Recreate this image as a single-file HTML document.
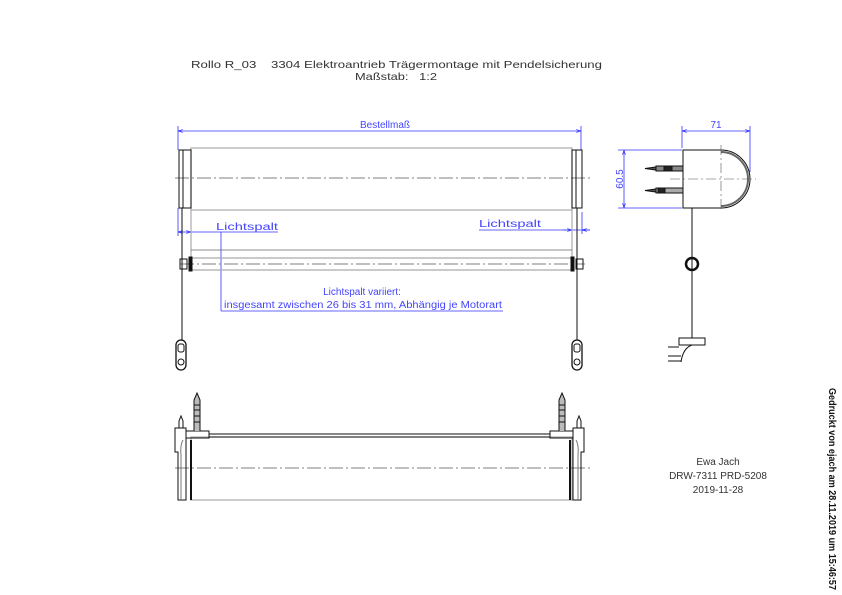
<!DOCTYPE html>
<html><head><meta charset="utf-8"><style>
html,body{margin:0;padding:0;background:#fff}
svg{display:block}
text{font-family:"Liberation Sans",sans-serif;white-space:pre}
</style></head><body>
<svg width="842" height="595" viewBox="0 0 842 595" xmlns="http://www.w3.org/2000/svg">
<defs>
<marker id="a" viewBox="0 0 10 10" refX="10" refY="5" markerWidth="6" markerHeight="6" orient="auto-start-reverse"><path d="M0,2 L10,5 L0,8" fill="none" stroke="#3333ff" stroke-width="1.5"/></marker>
</defs>
<!-- Title -->
<text x="191" y="68" font-size="10.5" fill="#333" textLength="411" lengthAdjust="spacingAndGlyphs" xml:space="preserve">Rollo R_03    3304 Elektroantrieb Trägermontage mit Pendelsicherung</text>
<text x="355" y="80" font-size="10.5" fill="#333" xml:space="preserve" textLength="82" lengthAdjust="spacingAndGlyphs">Maßstab:   1:2</text>

<!-- TOP VIEW -->
<g stroke="#3333ff" stroke-width="0.8" fill="none">
<line x1="178" y1="126" x2="178" y2="150"/>
<line x1="581" y1="126" x2="581" y2="150"/>
<line x1="178" y1="131" x2="581" y2="131" marker-start="url(#a)" marker-end="url(#a)"/>
<line x1="178" y1="208" x2="178" y2="236"/>
<line x1="191" y1="220" x2="191" y2="236"/>
<line x1="178" y1="232" x2="191" y2="232" marker-start="url(#a)" marker-end="url(#a)"/>
<line x1="191" y1="232" x2="278" y2="232"/>
<line x1="221" y1="232" x2="221" y2="311"/>
<line x1="221" y1="311" x2="503" y2="311"/>
<line x1="572" y1="212" x2="572" y2="234"/>
<line x1="582" y1="212" x2="582" y2="234"/>
<line x1="479" y1="230" x2="590" y2="230"/>
<line x1="563" y1="230" x2="572" y2="230" marker-end="url(#a)"/>
<line x1="590" y1="230" x2="582" y2="230" marker-end="url(#a)"/>
</g>
<g fill="#4444ff" font-size="10">
<text x="385" y="128" text-anchor="middle">Bestellmaß</text>
<text x="216" y="230" textLength="62" lengthAdjust="spacingAndGlyphs">Lichtspalt</text>
<text x="479" y="227" textLength="62" lengthAdjust="spacingAndGlyphs">Lichtspalt</text>
<text x="362" y="295" text-anchor="middle">Lichtspalt variiert:</text>
<text x="224" y="308" textLength="278" lengthAdjust="spacingAndGlyphs">insgesamt zwischen 26 bis 31 mm, Abhängig je Motorart</text>
</g>
<g fill="none" stroke="#aaa" stroke-width="1.2">
<rect x="191" y="148" width="381" height="62"/>
<line x1="191" y1="210" x2="191" y2="270"/>
<line x1="572" y1="210" x2="572" y2="270"/>
<line x1="191" y1="258" x2="572" y2="258"/>
<line x1="191" y1="270" x2="572" y2="270"/>
</g>
<line x1="191" y1="250" x2="572" y2="250" stroke="#666" stroke-width="0.8"/>
<line x1="175" y1="178" x2="590" y2="178" stroke="#555" stroke-width="0.7" stroke-dasharray="14,3,2,3"/>
<line x1="180" y1="264" x2="585" y2="264" stroke="#999" stroke-width="1.2" stroke-dasharray="14,3,2,3"/>
<g fill="none" stroke="#111" stroke-width="1">
<rect x="179" y="150" width="12" height="58"/>
<line x1="183" y1="150" x2="183" y2="208"/>
<rect x="572" y="150" width="10" height="58"/>
<line x1="576" y1="150" x2="576" y2="208"/>
<rect x="180" y="259" width="7" height="10"/>
<rect x="189" y="257" width="3" height="14" fill="#111"/>
<rect x="576" y="259" width="7" height="10"/>
<rect x="571" y="257" width="3" height="14" fill="#111"/>
<line x1="182" y1="208" x2="182" y2="340"/>
<line x1="577" y1="208" x2="577" y2="340"/>
<rect x="176" y="340" width="10" height="30" rx="5" stroke-width="1.3"/>
<rect x="178" y="344" width="6" height="8" rx="2"/>
<circle cx="181" cy="362" r="3"/>
<rect x="572" y="340" width="10" height="30" rx="5" stroke-width="1.3"/>
<rect x="574" y="344" width="6" height="8" rx="2"/>
<circle cx="577" cy="362" r="3"/>
</g>

<!-- SIDE VIEW -->
<g stroke="#3333ff" stroke-width="0.8" fill="none">
<line x1="682" y1="126" x2="682" y2="148"/>
<line x1="750" y1="126" x2="750" y2="172"/>
<line x1="682" y1="131" x2="750" y2="131" marker-start="url(#a)" marker-end="url(#a)"/>
<line x1="618" y1="150" x2="682" y2="150"/>
<line x1="618" y1="208" x2="682" y2="208"/>
<line x1="624" y1="150" x2="624" y2="208" marker-start="url(#a)" marker-end="url(#a)"/>
</g>
<text x="716" y="128" font-size="10" fill="#4444ff" text-anchor="middle">71</text>
<text x="0" y="0" font-size="10" fill="#4444ff" text-anchor="middle" transform="translate(623,179) rotate(-90)">60.5</text>
<g fill="none" stroke="#111" stroke-width="1">
<path d="M683,150 H721 A29,29 0 0 1 721,208 H683 Z"/>
<path d="M721,152 A27,27 0 0 1 721,206" stroke="#666" stroke-width="2"/>
<rect x="656" y="166" width="27" height="5" fill="#888"/>
<rect x="664" y="166" width="8" height="5" fill="#222"/>
<path d="M645,168.5 L656,167 V170 Z" fill="#555"/>
<rect x="656" y="188" width="27" height="5" fill="#aaa"/>
<rect x="658" y="188" width="7" height="5" fill="#222"/>
<path d="M645,190.5 L656,189 V192 Z" fill="#555"/>
<line x1="692" y1="208" x2="692" y2="338"/>
<circle cx="692" cy="264" r="6" stroke-width="2.5"/>
<path d="M679,338 H705 V345 H679 Z"/>
<path d="M692,345 Q683,348 681,362"/>
<path d="M668,347 H679 M668,356 H681 M668,361 H681"/>
</g>
<line x1="670" y1="179" x2="756" y2="179" stroke="#555" stroke-width="0.6" stroke-dasharray="10,3,2,3"/>
<line x1="721" y1="145" x2="721" y2="212" stroke="#555" stroke-width="0.6" stroke-dasharray="10,3,2,3"/>

<!-- FRONT VIEW -->
<g fill="none" stroke="#aaa" stroke-width="1.2">
<rect x="191" y="437" width="381" height="63"/>
</g>
<line x1="175" y1="468" x2="590" y2="468" stroke="#555" stroke-width="0.7" stroke-dasharray="14,3,2,3"/>
<g fill="none" stroke="#111" stroke-width="1">
<line x1="209" y1="434" x2="550" y2="434"/>
<line x1="209" y1="437" x2="550" y2="437"/>
<rect x="186" y="431" width="23" height="7"/>
<rect x="550" y="431" width="23" height="7"/>
<path d="M175,428 H186 V500 H178 V452 H175 Z"/>
<path d="M584,428 H573 V500 H581 V452 H584 Z"/>
<path d="M183,440 Q180,445 181,455 V500" stroke="#777"/>
<path d="M576,440 Q579,445 578,455 V500" stroke="#777"/>
<line x1="191" y1="440" x2="191" y2="500" stroke-width="2"/>
<line x1="570" y1="440" x2="570" y2="500" stroke-width="2"/>
<path d="M194,431 V400 L197,393 L200,400 V431" fill="#bbb"/>
<line x1="194" y1="405" x2="200" y2="405"/><line x1="194" y1="410" x2="200" y2="410"/><line x1="194" y1="416" x2="200" y2="416"/><line x1="194" y1="422" x2="200" y2="422"/>
<path d="M559,431 V400 L562,393 L565,400 V431" fill="#bbb"/>
<line x1="559" y1="405" x2="565" y2="405"/><line x1="559" y1="410" x2="565" y2="410"/><line x1="559" y1="416" x2="565" y2="416"/><line x1="559" y1="422" x2="565" y2="422"/>
<path d="M179,428 V421 L181,416 L183,421 V428"/>
<path d="M577,428 V421 L579,416 L581,421 V428"/>
</g>

<!-- Info block -->
<g font-size="10" fill="#333" text-anchor="middle">
<text x="718" y="465">Ewa Jach</text>
<text x="718" y="479">DRW-7311 PRD-5208</text>
<text x="718" y="493">2019-11-28</text>
</g>
<text x="0" y="0" font-size="10" font-weight="bold" fill="#111" transform="translate(829,388) rotate(90)" textLength="202" lengthAdjust="spacingAndGlyphs">Gedruckt von ejach am 28.11.2019 um 15:46:57</text>
</svg>
</body></html>
